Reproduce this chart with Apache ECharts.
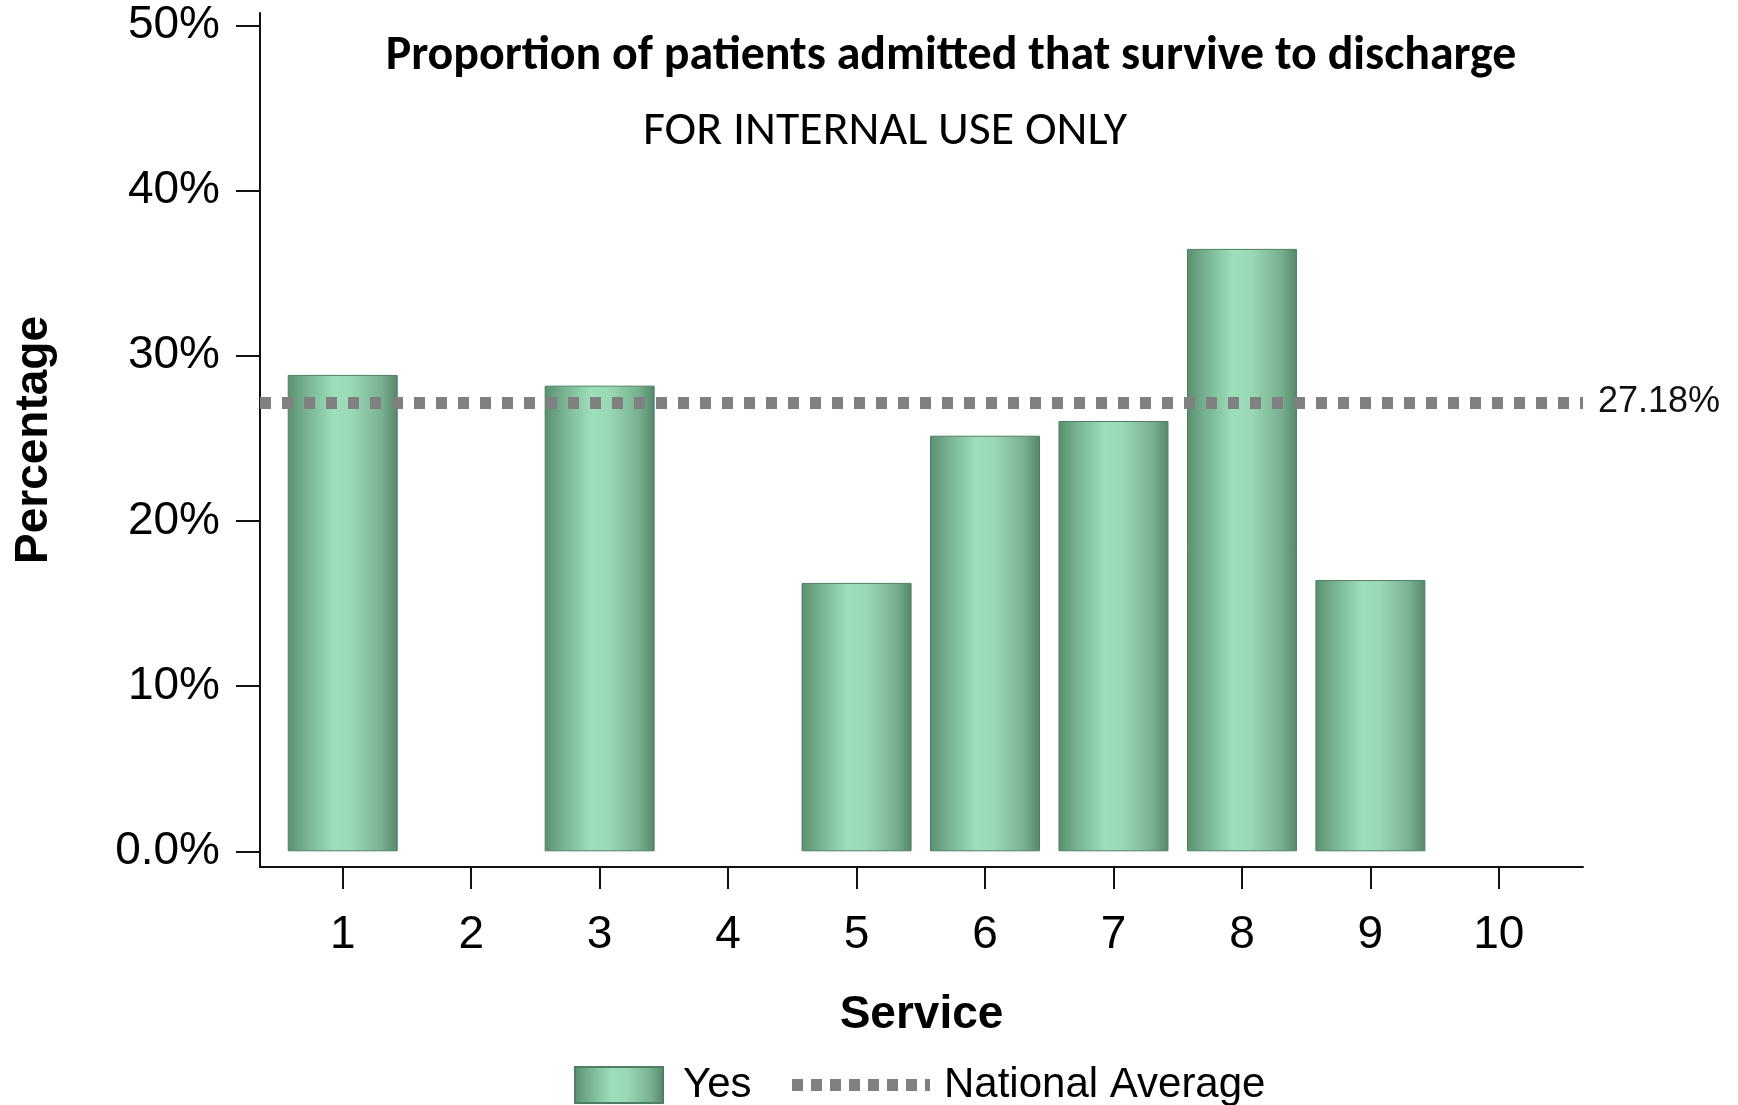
<!DOCTYPE html>
<html>
<head>
<meta charset="utf-8">
<script src="https://cdn.jsdelivr.net/npm/echarts@6/dist/echarts.min.js"></script>
<style>
html,body{margin:0;padding:0;background:#ffffff;}
#chart{width:1738px;height:1105px;}
</style>
</head>
<body>
<div id="chart"></div>
<script>
// ---------------- data ----------------
const services = [1, 2, 3, 4, 5, 6, 7, 8, 9, 10];
const yesPct = [28.84, null, 28.19, null, 16.25, 25.16, 26.05, 36.47, 16.42, null];
const nationalAverage = 27.18;
const yTickValues = [0, 10, 20, 30, 40, 50];
const titleText = 'Proportion of patients admitted that survive to discharge';
const subtitleText = 'FOR INTERNAL USE ONLY';
const xAxisTitle = 'Service';
const yAxisTitle = 'Percentage';
const seriesNames = ['Yes', 'National Average'];

// ---------------- helpers ----------------
function fitFontSize(text, family, weight, targetWidth) {
  const ctx = document.createElement('canvas').getContext('2d');
  ctx.font = weight + ' 100px ' + family;
  return 100 * targetWidth / ctx.measureText(text).width;
}
const calibriLike = 'Carlito, Lato, "Open Sans", sans-serif';
const arialLike = '"Liberation Sans", Arial, sans-serif';
const titleSize = fitFontSize(titleText, calibriLike, 'bold', 1131);
const subtitleSize = fitFontSize(subtitleText, calibriLike, 'normal', 484);

const barData = [];
services.forEach((s, i) => { if (yesPct[i] !== null) barData.push([s, yesPct[i]]); });

const barGradient = new echarts.graphic.LinearGradient(0, 0, 1, 0, [
  { offset: 0.0, color: '#58906f' },
  { offset: 0.15, color: '#74ae8e' },
  { offset: 0.42, color: '#9ddfbb' },
  { offset: 0.58, color: '#9ad9b6' },
  { offset: 0.85, color: '#79b191' },
  { offset: 1.0, color: '#55876b' }
]);

const dotted = { color: '#808080', width: 12, type: [11, 11], cap: 'butt' };

const chart = echarts.init(document.getElementById('chart'), null, { renderer: 'canvas' });
chart.setOption({
  animation: false,
  backgroundColor: '#ffffff',
  title: [
    {
      text: titleText, left: 951, top: 33, padding: 0, textAlign: 'center',
      textStyle: { fontFamily: calibriLike, fontWeight: 'bold', fontSize: titleSize, color: '#000' }
    },
    {
      text: subtitleText, left: 885, top: 108, padding: 0, textAlign: 'center',
      textStyle: { fontFamily: calibriLike, fontWeight: 'normal', fontSize: subtitleSize, color: '#000' }
    }
  ],
  legend: [
    {
      data: [{ name: seriesNames[0], icon: 'rect' }], left: 574, top: 1064, padding: 0,
      itemWidth: 88, itemHeight: 36, selectedMode: false,
      textStyle: { fontFamily: arialLike, fontSize: 42, color: '#000', padding: [0, 0, 0, 15] }
    },
    {
      data: [seriesNames[1]], left: 786, top: 1064, padding: 0,
      itemWidth: 138, itemHeight: 12, selectedMode: false,
      lineStyle: { color: '#808080', width: 12, type: [11, 8], cap: 'butt' },
      itemStyle: { color: 'rgba(0,0,0,0)', borderWidth: 0, opacity: 0 },
      textStyle: { fontFamily: arialLike, fontSize: 42, color: '#000', padding: [0, 0, 0, 9] }
    }
  ],
  grid: { left: 260, right: 155, top: 13, bottom: 238, containLabel: false },
  xAxis: {
    type: 'value', min: 0.356, max: 10.655,
    name: xAxisTitle, nameLocation: 'middle', nameGap: 125,
    nameTextStyle: { fontFamily: arialLike, fontWeight: 'bold', fontSize: 46, color: '#000' },
    axisLine: { show: true, onZero: false, lineStyle: { color: '#111', width: 2 } },
    axisTick: { show: true, length: 22, lineStyle: { color: '#111', width: 2 }, customValues: services },
    axisLabel: { show: true, margin: 45, fontFamily: arialLike, fontSize: 46, color: '#000', customValues: services,
      formatter: v => String(v) },
    splitLine: { show: false }
  },
  yAxis: {
    type: 'value', min: -0.95, max: 50.75,
    name: yAxisTitle, nameLocation: 'middle', nameGap: 203,
    nameTextStyle: { fontFamily: arialLike, fontWeight: 'bold', fontSize: 46, color: '#000' },
    axisLine: { show: true, onZero: false, lineStyle: { color: '#111', width: 2 } },
    axisTick: { show: true, length: 24, lineStyle: { color: '#111', width: 2 }, customValues: yTickValues },
    axisLabel: { show: true, margin: 40, fontFamily: arialLike, fontSize: 46, color: '#000', customValues: yTickValues,
      formatter: v => (v === 0 ? '0.0%' : v + '%') },
    splitLine: { show: false }
  },
  series: [
    {
      name: seriesNames[0], type: 'bar', data: barData, barWidth: 110,
      itemStyle: { color: barGradient, borderColor: '#4e7f64', borderWidth: 1 },
      emphasis: { disabled: true }
    },
    {
      name: seriesNames[1], type: 'line', data: [], symbol: 'none',
      lineStyle: dotted, itemStyle: { color: '#808080' },
      markLine: {
        silent: true, symbol: ['none', 'none'],
        lineStyle: dotted,
        label: { show: true, position: 'end', distance: 15, padding: [14, 0, 0, 0],
          formatter: nationalAverage.toFixed(2) + '%',
          fontFamily: arialLike, fontSize: 36, color: '#111' },
        data: [{ yAxis: nationalAverage }]
      }
    }
  ]
});
</script>
</body>
</html>
